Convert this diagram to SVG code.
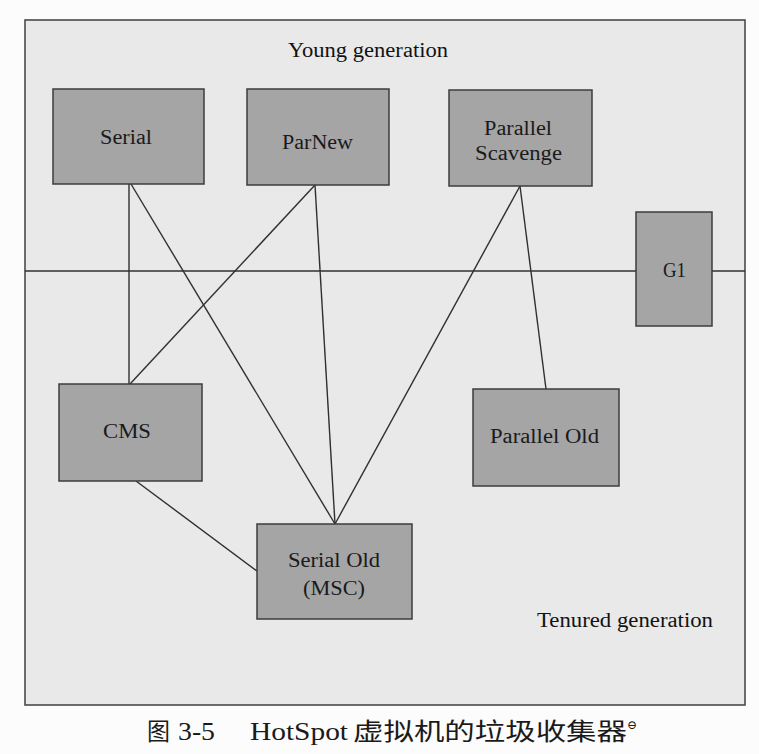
<svg xmlns="http://www.w3.org/2000/svg" width="759" height="754" viewBox="0 0 759 754">
  <style>
    .frame { fill: #e9e9e9; stroke: #4a4a4a; stroke-width: 1.6; }
    .box { fill: #a5a5a5; stroke: #3c3c3c; stroke-width: 1.5; }
    .lbl { font-family: "Liberation Serif", "Tinos", "DejaVu Serif", "Noto Serif", serif; font-size: 20px; fill: #1a1a1a; }
    .zone { font-family: "Liberation Serif", "Tinos", "DejaVu Serif", "Noto Serif", serif; font-size: 20px; fill: #121212; }
    .wire { stroke: #303030; stroke-width: 1.4; fill: none; }
    .cap-cjk { font-family: "Noto Sans CJK SC", "Noto Sans", sans-serif; font-size: 24px; fill: #1a1a1a; }
    .cap-lat { font-family: "Liberation Serif", "Tinos", "DejaVu Serif", "Noto Serif", serif; font-size: 25px; fill: #1a1a1a; }
  </style>

  <!-- page -->
  <rect x="0" y="0" width="759" height="754" fill="#fcfcfc"/>

  <!-- figure frame -->
  <rect class="frame" x="25" y="20" width="720" height="685"/>

  <!-- region labels -->
  <text class="zone" x="288" y="57" textLength="160" lengthAdjust="spacingAndGlyphs">Young generation</text>
  <text class="zone" x="537" y="627" textLength="176" lengthAdjust="spacingAndGlyphs">Tenured generation</text>

  <!-- connectors -->
  <g id="connectors">
    <!-- young / tenured boundary -->
    <line class="wire" x1="25" y1="271" x2="636" y2="271"/>
    <line class="wire" x1="712" y1="271" x2="745" y2="271"/>
    <!-- collector pairings -->
    <line class="wire" x1="129" y1="184" x2="129" y2="384"/>
    <line class="wire" x1="131" y1="184" x2="335" y2="524"/>
    <line class="wire" x1="315" y1="185" x2="130" y2="384"/>
    <line class="wire" x1="315" y1="185" x2="335" y2="524"/>
    <line class="wire" x1="520" y1="186" x2="335" y2="524"/>
    <line class="wire" x1="520" y1="186" x2="546" y2="389"/>
    <line class="wire" x1="136" y1="481" x2="257" y2="571"/>
  </g>

  <!-- collectors -->
  <g id="serial">
    <rect class="box" x="53" y="89" width="151" height="95"/>
    <text class="lbl" x="100" y="144" textLength="52" lengthAdjust="spacingAndGlyphs">Serial</text>
  </g>
  <g id="parnew">
    <rect class="box" x="247" y="89" width="142" height="96"/>
    <text class="lbl" x="282" y="149" textLength="71" lengthAdjust="spacingAndGlyphs">ParNew</text>
  </g>
  <g id="parallel-scavenge">
    <rect class="box" x="449" y="90" width="143" height="96"/>
    <text class="lbl" x="484" y="135" textLength="68" lengthAdjust="spacingAndGlyphs">Parallel</text>
    <text class="lbl" x="475" y="160" textLength="87" lengthAdjust="spacingAndGlyphs">Scavenge</text>
  </g>
  <g id="g1">
    <rect class="box" x="636" y="212" width="76" height="114"/>
    <text class="lbl" x="663" y="277" textLength="23" lengthAdjust="spacingAndGlyphs">G1</text>
  </g>
  <g id="cms">
    <rect class="box" x="59" y="384" width="143" height="97"/>
    <text class="lbl" x="103" y="438" textLength="48" lengthAdjust="spacingAndGlyphs">CMS</text>
  </g>
  <g id="parallel-old">
    <rect class="box" x="473" y="389" width="146" height="97"/>
    <text class="lbl" x="490" y="443" textLength="109" lengthAdjust="spacingAndGlyphs">Parallel Old</text>
  </g>
  <g id="serial-old">
    <rect class="box" x="257" y="524" width="155" height="95"/>
    <text class="lbl" x="288" y="567" textLength="92" lengthAdjust="spacingAndGlyphs">Serial Old</text>
    <text class="lbl" x="303" y="595" textLength="62" lengthAdjust="spacingAndGlyphs">(MSC)</text>
  </g>

  <!-- caption -->
  <g id="caption">
    <text class="cap-cjk" x="147" y="740" textLength="23" lengthAdjust="spacingAndGlyphs">图</text>
    <text class="cap-lat" x="178" y="740" textLength="37" lengthAdjust="spacingAndGlyphs">3-5</text>
    <text class="cap-lat" x="250" y="740" textLength="98" lengthAdjust="spacingAndGlyphs">HotSpot</text>
    <text class="cap-cjk" x="353" y="740" textLength="274" lengthAdjust="spacingAndGlyphs">虚拟机的垃圾收集器</text>
    <text class="cap-lat" x="627" y="729" style="font-size:12px">⊖</text>
  </g>
</svg>
